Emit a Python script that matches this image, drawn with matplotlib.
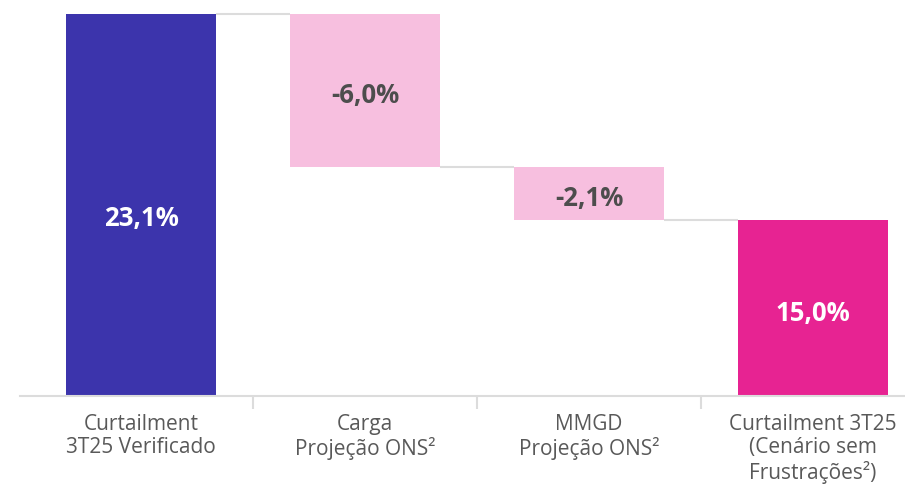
import matplotlib
matplotlib.use("Agg")
import matplotlib.pyplot as plt
from matplotlib.ticker import FixedLocator

categories = ["Curtailment\n3T25 Verificado", "Carga\nProjeção ONS²", "MMGD\nProjeção ONS²",
              "Curtailment 3T25\n(Cenário sem\nFrustrações²)"]
values = [23.1, -6.0, -2.1, 15.0]
labels = ["23,1%", "-6,0%", "-2,1%", "15,0%"]
kinds = ["total", "delta", "delta", "total"]

colors = {"total0": "#3C34AC", "delta": "#F7BFDF", "total1": "#E72392"}
grid_gray = "#DCDCDC"
text_gray = "#595959"

plt.rcParams['font.family'] = ['Open Sans', 'DejaVu Sans']

fig = plt.figure(figsize=(9.05, 4.85), dpi=100)
ax = fig.add_axes([20/905, 88/485, 885/905, 397/485])
ymin, ymax = 8.1, 23.68
ax.set_xlim(-0.54, 3.41)
ax.set_ylim(ymin, ymax)

width = 0.67
running = 0.0
tops = []
for i, (v, k) in enumerate(zip(values, kinds)):
    if k == "total":
        bottom, height = 0.0, v
        running = v
        col = colors["total0"] if i == 0 else colors["total1"]
        tcol = "white"
    else:
        bottom, height = running + v, -v
        running = running + v
        col = colors["delta"]
        tcol = "#4D4D4D"
    ax.bar(i, height, bottom=bottom, width=width, color=col, zorder=2)
    lo = max(bottom, ymin)
    hi = bottom + height
    ymid = (lo + hi) / 2
    dy = -9 if i == 0 else -3
    ax.annotate(labels[i], (i, ymid), xytext=(0, dy), textcoords="offset points",
                ha="center", va="center", fontsize=18.5,
                fontweight="bold", color=tcol, zorder=3)
    tops.append(running)

# connectors
for i in range(len(values) - 1):
    ax.plot([i + width/2, i + 1 - width/2], [tops[i], tops[i]], color=grid_gray,
            lw=1.5, zorder=1, solid_capstyle="butt")

for s in ["top", "right", "left"]:
    ax.spines[s].set_visible(False)
ax.spines["bottom"].set_color(grid_gray)
ax.spines["bottom"].set_linewidth(1.5)
ax.set_yticks([])
ax.set_xticks(range(len(categories)))
ax.set_xticklabels(categories, fontsize=15, color=text_gray, linespacing=1.15)
ax.tick_params(axis="x", which="major", length=0, pad=12)
ax.xaxis.set_minor_locator(FixedLocator([0.5, 1.5, 2.5]))
ax.tick_params(axis="x", which="minor", length=9, color=grid_gray, width=1.5)

fig.savefig("out.png", dpi=100, facecolor="white")
